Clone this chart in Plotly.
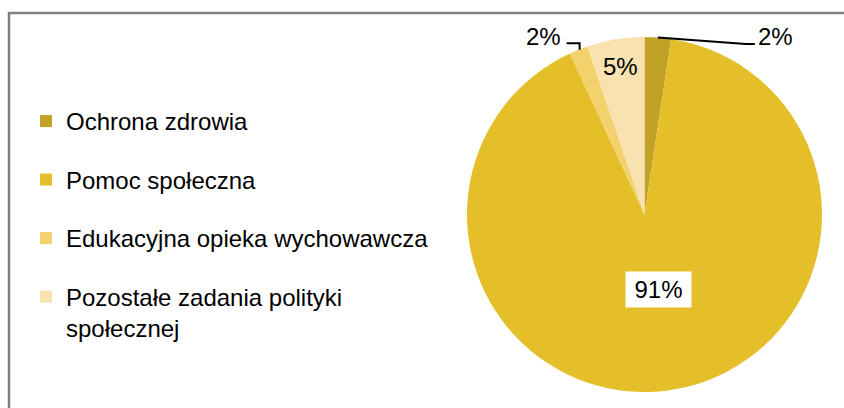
import math
import plotly.graph_objects as go

# ---- data ----
categories = ["Ochrona zdrowia", "Pomoc społeczna", "Edukacyjna opieka wychowawcza",
              "Pozostałe zadania polityki społecznej"]
legend_labels = ["Ochrona zdrowia", "Pomoc społeczna", "Edukacyjna opieka wychowawcza",
                 "Pozostałe zadania polityki<br>społecznej"]
values = [2.4, 90.7, 1.7, 5.2]
colors = ["#C1A126", "#E4BF2A", "#F3D26E", "#F8E2AF"]

W, H = 844, 408
FONT = "Arial, Liberation Sans, sans-serif"

# pie placement (pixels)
cx, cy, r = 644.5, 214.5, 177.5
dom_x = [(cx - r) / W, (cx + r) / W]
dom_y = [1 - (cy + r) / H, 1 - (cy - r) / H]

def px(x):
    return x / W

def py(y):
    return 1 - y / H

fig = go.Figure()
fig.add_trace(go.Pie(
    labels=categories, values=values, sort=False, direction="clockwise", rotation=0,
    marker=dict(colors=colors, line=dict(width=0)),
    textinfo="none", hoverinfo="label+percent", showlegend=False,
    domain=dict(x=dom_x, y=dom_y),
))

# legend entries
for lab, col in zip(legend_labels, colors):
    fig.add_trace(go.Scatter(
        x=[None], y=[None], mode="markers", name=lab, legendgroup=lab,
        marker=dict(symbol="square", size=12, color=col, line=dict(width=0)),
    ))

# slice geometry from data
total = sum(values)
mids, cum = [], 0.0
for v in values:
    mids.append(math.radians((cum + v / 2) / total * 360))
    cum += v

def polar(frac, ang):
    return cx + frac * r * math.sin(ang), cy - frac * r * math.cos(ang)

def pct(v):
    return f"{round(v / total * 100)}%"

annotations = []
shapes = []
tfont = dict(family=FONT, size=24, color="#000000")

# 91% big slice label with white box
x91, y91 = polar(0.425, mids[1])
annotations.append(dict(x=px(x91 + 3.5), y=py(y91), xref="paper", yref="paper", text=pct(values[1]),
                        showarrow=False, font=tfont, bgcolor="#FFFFFF", width=61, height=31,
                        borderpad=2, xanchor="center", yanchor="middle"))
# 5% inside label
x5, y5 = polar(0.845, mids[3])
annotations.append(dict(x=px(x5), y=py(y5), xref="paper", yref="paper", text=pct(values[3]),
                        showarrow=False, font=tfont, xanchor="center", yanchor="middle"))
# right 2% (Ochrona) outside with leader line
ex, ey = polar(1.0, mids[0])
annotations.append(dict(x=px(ex + 117.6), y=py(ey - 1), xref="paper", yref="paper",
                        text=pct(values[0]), showarrow=False, font=tfont,
                        xanchor="center", yanchor="middle"))
shapes.append(dict(type="path", xref="paper", yref="paper",
                   path=f"M {px(ex)} {py(ey)} L {px(ex + 88)} {py(ey + 6.5)} L {px(ex + 97)} {py(ey + 6.5)}",
                   line=dict(color="#000000", width=2)))
# left 2% (Edukacyjna) outside with leader line
ex2, ey2 = polar(1.0, mids[2])
annotations.append(dict(x=px(ex2 - 35), y=py(ey2 - 12.7), xref="paper", yref="paper",
                        text=pct(values[2]), showarrow=False, font=tfont,
                        xanchor="center", yanchor="middle"))
shapes.append(dict(type="path", xref="paper", yref="paper",
                   path=f"M {px(ex2 + 1)} {py(ey2)} L {px(ex2 + 1)} {py(ey2 - 6.5)} L {px(ex2 - 12)} {py(ey2 - 6.5)}",
                   line=dict(color="#000000", width=2)))

# chart border (extends beyond the right/bottom edges)
shapes.append(dict(type="rect", xref="paper", yref="paper", x0=px(9), x1=1.05, y0=-0.05, y1=py(13),
                   line=dict(color="#7F7F7F", width=2.5), layer="above"))

fig.update_layout(
    width=W, height=H, margin=dict(l=0, r=0, t=0, b=0),
    paper_bgcolor="#FFFFFF", plot_bgcolor="#FFFFFF",
    font=dict(family=FONT, size=24, color="#000000"),
    xaxis=dict(visible=False), yaxis=dict(visible=False),
    showlegend=True,
    legend=dict(x=px(26), y=py(99), xanchor="left", yanchor="top",
                font=dict(family=FONT, size=24, color="#000000"),
                traceorder="grouped", tracegroupgap=24.3, valign="top",
                bgcolor="rgba(0,0,0,0)", borderwidth=0),
    annotations=annotations, shapes=shapes,
)

fig.write_html("out.html", config={"displayModeBar": False},
               post_script="document.body.style.margin='0px';document.body.style.overflow='hidden';")
